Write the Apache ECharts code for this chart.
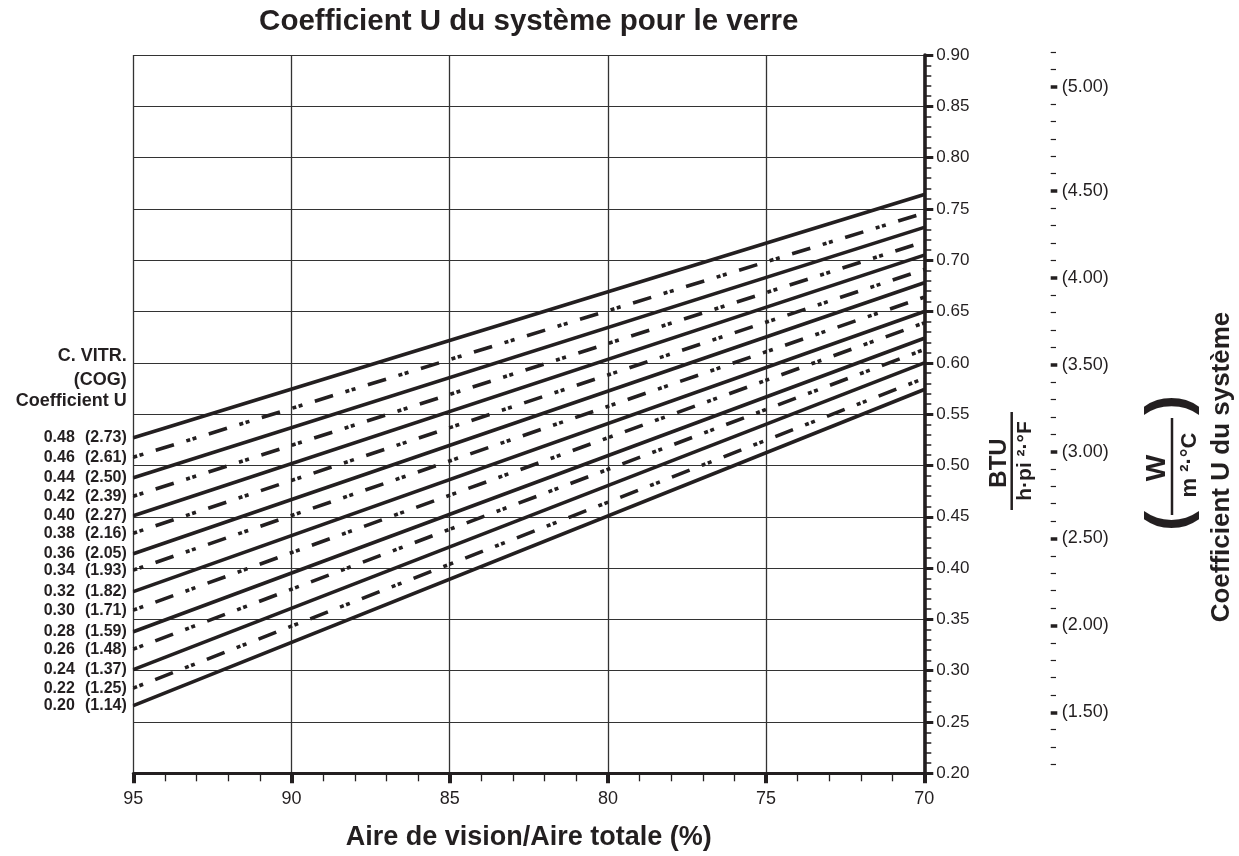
<!DOCTYPE html>
<html>
<head>
<meta charset="utf-8">
<script src="https://cdn.jsdelivr.net/npm/echarts@6/dist/echarts.min.js"></script>
<style>
  html, body { margin: 0; padding: 0; background: #ffffff; }
  #chart { width: 1239px; height: 856px; }
</style>
</head>
<body>
<div id="chart"></div>
<script>
const INK = '#231f20';
const FONT = "'Liberation Sans', Arial, Helvetica, sans-serif";

// Centre-of-glass U value (BTU/h·ft²·°F) and its SI equivalent
const cogU = [0.48, 0.46, 0.44, 0.42, 0.40, 0.38, 0.36, 0.34, 0.32, 0.30, 0.28, 0.26, 0.24, 0.22, 0.20];
const cogUSI = ['(2.73)', '(2.61)', '(2.50)', '(2.39)', '(2.27)', '(2.16)', '(2.05)', '(1.93)',
                '(1.82)', '(1.71)', '(1.59)', '(1.48)', '(1.37)', '(1.25)', '(1.14)'];

// Vision area / total area (%) at both ends of every line
const visionArea = [95, 70];

// System U value at 95 % and at 70 % vision area, one entry per COG line
const systemUAt95 = [0.527, 0.508, 0.488, 0.470, 0.451, 0.434, 0.414, 0.398,
                     0.377, 0.359, 0.338, 0.321, 0.301, 0.283, 0.266];
const systemUAt70 = [0.764, 0.746, 0.732, 0.718, 0.705, 0.691, 0.678, 0.664,
                     0.650, 0.639, 0.624, 0.613, 0.600, 0.585, 0.574];

// Secondary (W/m²·°C) scale: labelled ticks
const siTickLabels = ['(1.50)', '(2.00)', '(2.50)', '(3.00)', '(3.50)', '(4.00)', '(4.50)', '(5.00)'];
const siTickAt = [1.5, 2.0, 2.5, 3.0, 3.5, 4.0, 4.5, 5.1];
const siMin = 1.2, siMax = 5.3;

// unlabelled ticks every 0.1 on the secondary scale
const siMinorTicks = [];
for (let k = Math.round(siMin * 10); k <= Math.round(siMax * 10); k++) {
  const v = k / 10;
  if (!siTickAt.some(t => Math.abs(t - v) < 1e-6)) siMinorTicks.push(v);
}

const DASH_DOT_DOT = [19, 13, 4, 2.5, 4, 13];

const labelRich = {
  a: { width: 44, align: 'right', fontSize: 16, fontWeight: 'bold', fontFamily: FONT, color: INK },
  b: { width: 52, align: 'right', fontSize: 16, fontWeight: 'bold', fontFamily: FONT, color: INK }
};

const series = cogU.map((u, i) => ({
  name: u.toFixed(2),
  type: 'line',
  xAxisIndex: 0,
  yAxisIndex: 0,
  symbol: 'circle',
  symbolSize: 1,
  showSymbol: true,
  silent: true,
  animation: false,
  itemStyle: { color: INK },
  lineStyle: {
    color: INK,
    width: 3.6,
    cap: 'butt',
    type: i % 2 === 0 ? 'solid' : DASH_DOT_DOT,
    dashOffset: 32
  },
  data: [
    {
      value: [visionArea[0], systemUAt95[i]],
      label: {
        show: true,
        position: 'left',
        distance: 6,
        formatter: '{a|' + u.toFixed(2) + '}{b|' + cogUSI[i] + '}',
        rich: labelRich
      }
    },
    { value: [visionArea[1], systemUAt70[i]], label: { show: false } }
  ]
}));

function rotText(x, y, text, size) {
  return {
    type: 'text',
    x: x, y: y,
    rotation: Math.PI / 2,
    silent: true,
    style: {
      text: text,
      font: 'bold ' + size + 'px ' + FONT,
      fill: INK,
      align: 'center',
      verticalAlign: 'middle'
    }
  };
}

function plainText(x, y, text, size) {
  return {
    type: 'text',
    x: x, y: y,
    silent: true,
    style: {
      text: text,
      font: 'bold ' + size + 'px ' + FONT,
      fill: INK,
      align: 'right',
      verticalAlign: 'middle'
    }
  };
}

// the W/m²·°C scale sits in its own grids, to the right of the plot
const siGrid = { left: 133.3, right: 1239 - 1050.7, top: 51.9, bottom: 856 - 764.4, outerBoundsMode: 'none' };

const chart = echarts.init(document.getElementById('chart'), null, { renderer: 'canvas' });

chart.setOption({
  backgroundColor: '#ffffff',
  animation: false,
  title: {
    text: 'Coefficient U du système pour le verre',
    left: 528.8,
    top: 7,
    padding: 0,
    textAlign: 'center',
    textStyle: { fontSize: 29.5, fontWeight: 'bold', color: INK, fontFamily: FONT }
  },
  grid: [
    { left: 133.3, right: 1239 - 924.3, top: 55, bottom: 856 - 773.3, outerBoundsMode: 'none' },
    Object.assign({}, siGrid),
    Object.assign({}, siGrid)
  ],
  xAxis: [
    {
      gridIndex: 0,
      type: 'value',
      min: 70,
      max: 95,
      interval: 5,
      inverse: true,
      position: 'bottom',
      axisLine: { show: true, onZero: false, lineStyle: { color: INK, width: 3 } },
      axisTick: { show: true, length: 10, lineStyle: { color: INK, width: 4 } },
      minorTick: { show: true, splitNumber: 5, length: 8, lineStyle: { color: INK, width: 1.3 } },
      splitLine: { show: true, lineStyle: { color: '#333333', width: 1.3 } },
      axisLabel: { fontSize: 18, color: INK, fontFamily: FONT, margin: 17 },
      name: 'Aire de vision/Aire totale (%)',
      nameLocation: 'middle',
      nameGap: 51,
      nameTextStyle: { fontSize: 27, fontWeight: 'bold', color: INK, fontFamily: FONT }
    },
    { gridIndex: 1, type: 'value', min: 1, max: 2, show: false },
    { gridIndex: 2, type: 'value', min: 1, max: 2, show: false }
  ],
  yAxis: [
    {
      gridIndex: 0,
      type: 'value',
      min: 0.2,
      max: 0.9,
      interval: 0.05,
      position: 'right',
      axisLine: { show: true, onZero: false, lineStyle: { color: INK, width: 3.6 } },
      axisTick: { show: true, length: 9, lineStyle: { color: INK, width: 3 } },
      minorTick: { show: true, splitNumber: 5, length: 7, lineStyle: { color: INK, width: 1.5 } },
      splitLine: { show: true, lineStyle: { color: '#333333', width: 1.2 } },
      axisLabel: {
        formatter: v => v.toFixed(2),
        fontSize: 17, color: INK, fontFamily: FONT, margin: 12
      }
    },
    {
      gridIndex: 1,
      type: 'value',
      min: siMin,
      max: siMax,
      position: 'right',
      axisLine: { show: false, onZero: false },
      axisTick: { show: true, length: 5.3, customValues: siMinorTicks, lineStyle: { color: INK, width: 1.2 } },
      axisLabel: { show: false },
      splitLine: { show: false }
    },
    {
      gridIndex: 2,
      type: 'value',
      min: siMin,
      max: siMax,
      position: 'right',
      axisLine: { show: false, onZero: false },
      axisTick: { show: true, length: 6.6, customValues: siTickAt, lineStyle: { color: INK, width: 3.5 } },
      axisLabel: {
        show: true,
        customValues: siTickAt,
        formatter: v => {
          const k = siTickAt.findIndex(t => Math.abs(t - v) < 1e-6);
          return k >= 0 ? siTickLabels[k] : '';
        },
        fontSize: 18, color: INK, fontFamily: FONT, margin: 11
      },
      splitLine: { show: false }
    }
  ],
  graphic: [
    plainText(126.7, 356, 'C. VITR.', 18),
    plainText(126.7, 380, '(COG)', 18),
    plainText(126.7, 401, 'Coefficient U', 18),

    // BTU / h·ft²·°F
    rotText(999, 463, 'BTU', 24),
    { type: 'line', silent: true, shape: { x1: 1011.7, y1: 412, x2: 1011.7, y2: 510 }, style: { stroke: INK, lineWidth: 2.5 } },
    rotText(1025, 461, 'h·pi ²·°F', 21),

    // ( W / m²·°C )
    rotText(1157, 468, 'W', 28),
    { type: 'line', silent: true, shape: { x1: 1172, y1: 418, x2: 1172, y2: 515 }, style: { stroke: INK, lineWidth: 2.5 } },
    rotText(1190, 465, 'm ²·°C', 22),
    rotText(1170, 521, '(', 60),
    rotText(1170, 405, ')', 60),

    rotText(1222, 467, 'Coefficient U du système', 26)
  ],
  series: series
});
</script>
</body>
</html>
